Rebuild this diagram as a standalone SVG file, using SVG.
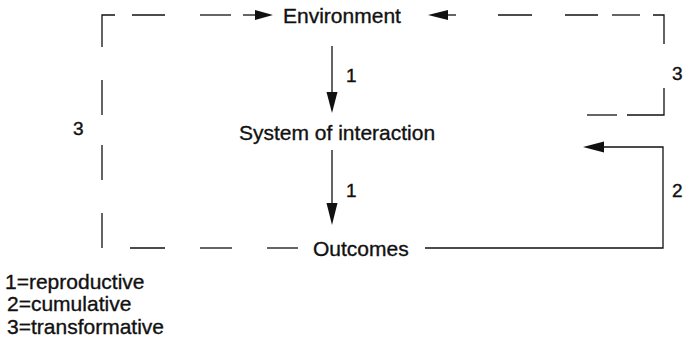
<svg xmlns="http://www.w3.org/2000/svg" width="684" height="341" viewBox="0 0 684 341">
  <style>
    .ln { fill: none; stroke: #111; stroke-width: 1.3; }
    .hd { fill: #111; stroke: none; }
    .node { font-family: "Liberation Sans", Arial, sans-serif; font-size: 21px; fill: #111; stroke: #111; stroke-width: 0.35; }
    .lbl { font-family: "Liberation Sans", Arial, sans-serif; font-size: 19px; fill: #111; stroke: #111; stroke-width: 0.4; }
    .key { font-family: "Liberation Sans", Arial, sans-serif; font-size: 21px; fill: #111; stroke: #111; stroke-width: 0.35; }
  </style>
  <rect width="684" height="341" fill="#fff"/>

  <g id="connectors">
    <!-- reproductive: environment -> system -> outcomes -->
    <line class="ln" x1="332" y1="46" x2="332" y2="94"/>
    <polygon class="hd" points="326.5,92 337.5,92 332,113"/>
    <line class="ln" x1="332" y1="150" x2="332" y2="205"/>
    <polygon class="hd" points="326.5,203 337.5,203 332,225"/>

    <!-- cumulative: outcomes back to system (solid) -->
    <path class="ln" d="M425,248 H663 V147 H601"/>
    <polygon class="hd" points="604,141.5 604,152.5 583,147"/>

    <!-- transformative, left loop (dashed) -->
    <path class="ln" d="M102,47 V15 H115"/>
    <line class="ln" x1="132" y1="15" x2="165" y2="15"/>
    <line class="ln" x1="200" y1="15" x2="231" y2="15"/>
    <line class="ln" x1="243" y1="15" x2="258" y2="15"/>
    <polygon class="hd" points="255,10 255,20 273,15"/>
    <line class="ln" x1="102" y1="80" x2="102" y2="115"/>
    <line class="ln" x1="102" y1="145" x2="102" y2="180"/>
    <line class="ln" x1="102" y1="213" x2="102" y2="248"/>
    <line class="ln" x1="130" y1="248" x2="165" y2="248"/>
    <line class="ln" x1="200" y1="248" x2="232" y2="248"/>
    <line class="ln" x1="267" y1="248" x2="298" y2="248"/>

    <!-- transformative, right loop (dashed) -->
    <polygon class="hd" points="448,10 448,20 428,15"/>
    <line class="ln" x1="445" y1="15" x2="456" y2="15"/>
    <line class="ln" x1="498" y1="15" x2="532" y2="15"/>
    <line class="ln" x1="565" y1="15" x2="598" y2="15"/>
    <line class="ln" x1="612" y1="15" x2="640" y2="15"/>
    <path class="ln" d="M653,15 H664 V44"/>
    <path class="ln" d="M664,88 V115 H627"/>
    <line class="ln" x1="587" y1="115" x2="617" y2="115"/>
  </g>

  <g id="environment">
    <text class="node" x="283" y="23">Environment</text>
  </g>
  <g id="system">
    <text class="node" x="239" y="140">System of interaction</text>
  </g>
  <g id="outcomes">
    <text class="node" x="313" y="256">Outcomes</text>
  </g>

  <g id="labels">
    <text class="lbl" x="346" y="82">1</text>
    <text class="lbl" x="346" y="197">1</text>
    <text class="lbl" x="73" y="135">3</text>
    <text class="lbl" x="672" y="80">3</text>
    <text class="lbl" x="672" y="197">2</text>
  </g>

  <g id="legend">
    <text class="key" x="5" y="289">1=reproductive</text>
    <text class="key" x="7" y="311">2=cumulative</text>
    <text class="key" x="7" y="334">3=transformative</text>
  </g>
</svg>
